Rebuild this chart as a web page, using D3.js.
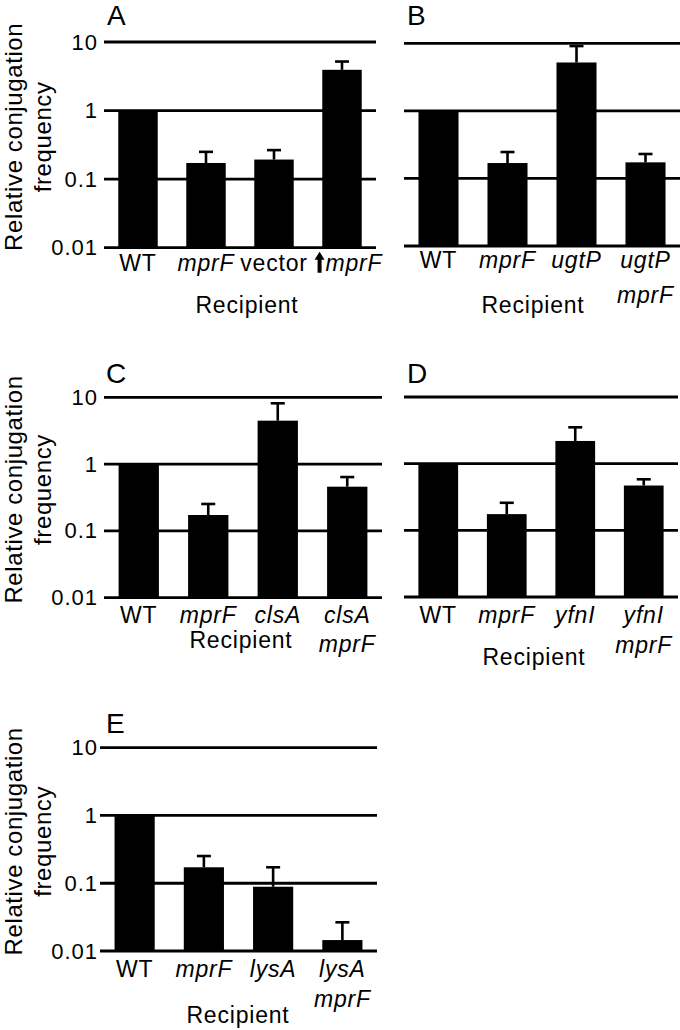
<!DOCTYPE html>
<html>
<head>
<meta charset="utf-8">
<script src="https://cdn.jsdelivr.net/npm/d3@7"></script>
<style>
  body { margin: 0; background: #fff; }
  text { font-family: "Liberation Sans", Arial, sans-serif; fill: #000; letter-spacing: 0.8px; }
</style>
</head>
<body>
<svg id="chart" width="680" height="1030"></svg>
<script>
// Data (relative conjugation frequency, log scale)
var tickVals = [0.01, 0.1, 1, 10];
var tickLabels = ["0.01", "0.1", "1", "10"];
var geneNames = ["mprF", "ugtP", "clsA", "yfnI", "lysA"];

var labelsA = [["WT"], ["mprF"], ["vector"], ["↑mprF"]];
var valuesA = [1, 0.172, 0.193, 3.93];
var errTopA = [null, 0.25, 0.265, 5.19];

var labelsB = [["WT"], ["mprF"], ["ugtP"], ["ugtP", "mprF"]];
var valuesB = [1, 0.169, 5.2, 0.173];
var errTopB = [null, 0.246, 9.1, 0.23];

var labelsC = [["WT"], ["mprF"], ["clsA"], ["clsA", "mprF"]];
var valuesC = [1, 0.173, 4.47, 0.459];
var errTopC = [null, 0.253, 8.13, 0.64];

var labelsD = [["WT"], ["mprF"], ["yfnI"], ["yfnI", "mprF"]];
var valuesD = [1, 0.175, 2.19, 0.47];
var errTopD = [null, 0.259, 3.51, 0.583];

var labelsE = [["WT"], ["mprF"], ["lysA"], ["lysA", "mprF"]];
var valuesE = [1, 0.172, 0.0888, 0.0145];
var errTopE = [null, 0.252, 0.172, 0.0265];

var yTitle = ["Relative conjugation", "frequency"];
var xTitle = "Recipient";

// Panel layout
var panels = [
  { name: "A", labels: labelsA, values: valuesA, errs: errTopA, x: [104, 376], y: [247.7, 42], left: true,
    letter: [107, 25], lab1: 23, lab2: 55, rec: [247, 65] },
  { name: "B", labels: labelsB, values: valuesB, errs: errTopB, x: [404, 680], y: [246, 43.3], left: false,
    letter: [407, 25], lab1: 22, lab2: 57, rec: [533, 67] },
  { name: "C", labels: labelsC, values: valuesC, errs: errTopC, x: [104, 382], y: [597.7, 397.3], left: true,
    letter: [106, 383], lab1: 25, lab2: 54, rec: [241, 50] },
  { name: "D", labels: labelsD, values: valuesD, errs: errTopD, x: [404, 678], y: [597, 397], left: false,
    letter: [407, 383], lab1: 26, lab2: 56, rec: [534, 68] },
  { name: "E", labels: labelsE, values: valuesE, errs: errTopE, x: [100, 377], y: [951, 747.7], left: true,
    letter: [106, 733], lab1: 26, lab2: 56, rec: [238, 72] }
];

var svg = d3.select("#chart");
svg.append("rect").attr("width", 680).attr("height", 1030).attr("fill", "#fff");

panels.forEach(drawPanel);

function drawPanel(p) {
  var n = p.values.length;
  var x = d3.scaleBand()
    .domain(d3.range(n))
    .range(p.x)
    .paddingInner(0.42)
    .paddingOuter(0.21);
  var y = d3.scaleLog()
    .domain([0.01, 10])
    .range(p.y);

  var g = svg.append("g");

  // horizontal lines at each decade (baseline included)
  g.selectAll("line.grid")
    .data(tickVals)
    .enter()
    .append("line")
    .attr("x1", p.x[0])
    .attr("x2", p.x[1])
    .attr("y1", function(d) { return y(d); })
    .attr("y2", function(d) { return y(d); })
    .attr("stroke", "#000")
    .attr("stroke-width", 2.8);

  // bars
  g.selectAll("rect.bar")
    .data(p.values)
    .enter()
    .append("rect")
    .attr("x", function(d, i) { return x(i); })
    .attr("width", x.bandwidth())
    .attr("y", function(d) { return y(d); })
    .attr("height", function(d) { return y(0.01) - y(d); })
    .attr("fill", "#000");

  // error bars (upper only)
  p.errs.forEach(function(e, i) {
    if (e == null) return;
    var cx = x(i) + x.bandwidth() / 2;
    g.append("line")
      .attr("x1", cx).attr("x2", cx)
      .attr("y1", y(p.values[i])).attr("y2", y(e))
      .attr("stroke", "#000").attr("stroke-width", 2.6);
    g.append("line")
      .attr("x1", cx - 7).attr("x2", cx + 7)
      .attr("y1", y(e)).attr("y2", y(e))
      .attr("stroke", "#000").attr("stroke-width", 2.6);
  });

  // y tick labels + title on the left column only
  if (p.left) {
    var axis = d3.axisLeft(y)
      .tickValues(tickVals)
      .tickFormat(function(d, i) { return tickLabels[i]; })
      .tickSize(0)
      .tickPadding(p.x[0] - 98);
    var ag = g.append("g")
      .attr("transform", "translate(" + p.x[0] + ",0)")
      .call(axis);
    ag.select(".domain").remove();
    ag.selectAll("text")
      .attr("font-size", 22)
      .style("font-family", "'Liberation Sans', Arial, sans-serif")
      .style("letter-spacing", "1px")
      .attr("fill", "#000");

    var cy = (p.y[0] + p.y[1]) / 2 - 8;
    var t = g.append("text")
      .attr("transform", "translate(22," + cy + ") rotate(-90)")
      .attr("text-anchor", "middle")
      .attr("font-size", 24)
      .style("letter-spacing", "0.6px");
    t.append("tspan").attr("x", 0).attr("dy", 0).text(yTitle[0]);
    t.append("tspan").attr("x", 0).attr("dy", 29).text(yTitle[1]);
  }

  // panel letter
  g.append("text")
    .attr("x", p.letter[0])
    .attr("y", p.letter[1])
    .attr("font-size", 28)
    .text(p.name);

  // category labels
  var base = y(0.01);
  p.labels.forEach(function(lines, i) {
    var cx = x(i) + x.bandwidth() / 2;
    lines.forEach(function(s, j) {
      var ly = base + (j === 0 ? p.lab1 : p.lab2);
      var arrow = s.charAt(0) === "↑";
      var word = arrow ? s.slice(1) : s;
      var tx = cx + (arrow ? 12 : 0);
      var txt = g.append("text")
        .attr("x", tx)
        .attr("y", ly)
        .attr("text-anchor", "middle")
        .attr("font-size", 23)
        .attr("font-style", geneNames.indexOf(word) >= 0 ? "italic" : "normal")
        .text(word);
      if (arrow) {
        var len = txt.node().getComputedTextLength();
        // bold up-arrow drawn just before the gene name
        var ax = tx - len / 2 - 6, top = ly - 19, bot = ly + 2;
        g.append("path")
          .attr("d", "M" + ax + "," + top +
                     " L" + (ax + 5) + "," + (top + 8) +
                     " L" + (ax + 2) + "," + (top + 8) +
                     " L" + (ax + 2) + "," + bot +
                     " L" + (ax - 2) + "," + bot +
                     " L" + (ax - 2) + "," + (top + 8) +
                     " L" + (ax - 5) + "," + (top + 8) + " Z")
          .attr("fill", "#000");
      }
    });
  });

  // axis title
  g.append("text")
    .attr("x", p.rec[0])
    .attr("y", base + p.rec[1])
    .attr("text-anchor", "middle")
    .attr("font-size", 23)
    .text(xTitle);
}
</script>
</body>
</html>
